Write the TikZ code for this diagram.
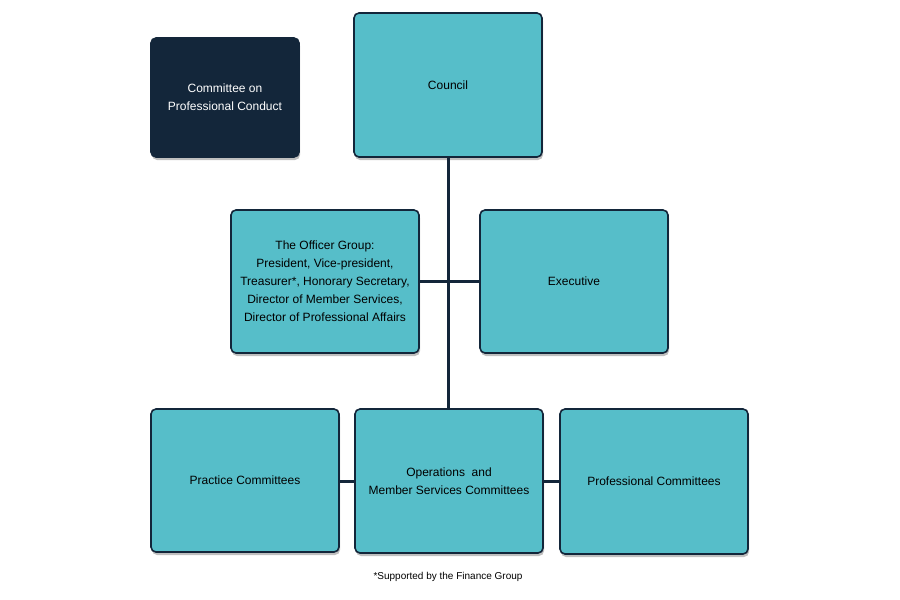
\documentclass[tikz,border=0pt]{standalone}
\usepackage{fontspec}
\setmainfont{Liberation Sans}
\usetikzlibrary{shadows}
\definecolor{navy}{HTML}{13263A}
\definecolor{tealbox}{HTML}{56BEC9}
\begin{document}
\begin{tikzpicture}[
  x=1pt, y=-1pt, font=\fontsize{12}{18}\selectfont,
  box/.style={draw=navy, line width=1.6pt, rounded corners=5pt, fill=#1, align=center,
    minimum width=188pt, minimum height=143pt, inner sep=2pt,
    drop shadow={shadow xshift=1pt, shadow yshift=-3pt, opacity=0.25, fill=black}},
  link/.style={line width=3pt, navy}
]
%% Canvas
\fill[white] (0,0) rectangle (900,600);
\useasboundingbox (0,0) rectangle (900,600);

%% Top row
\node[box=navy, text=white, minimum width=148pt, minimum height=119pt] (conduct) at (225, 97.5) {Committee on\\Professional Conduct};
\node[box=tealbox, minimum height=144pt] (council) at (448, 85) {Council};

%% Middle row
\node[box=tealbox] (officer) at (325, 281.5) {The Officer Group:\\President, Vice-president,\\Treasurer*, Honorary Secretary,\\Director of Member Services,\\Director of Professional Affairs};
\node[box=tealbox] (exec) at (574, 281.5) {Executive};

%% Committees
\node[box=tealbox] (practice) at (245, 480.5) {Practice Committees};
\node[box=tealbox, minimum height=144pt] (ops) at (449, 481) {Operations~ and\\Member Services Committees};
\node[box=tealbox, minimum height=145pt] (prof) at (654, 481.5) {Professional Committees};

%% Note
\node[font=\fontsize{10}{12}\selectfont] (note) at (448, 577) {*Supported by the Finance Group};

%% Links
\draw[link] (council.south -| 448,0) -- (ops.north -| 448,0);
\draw[link] (officer.east) -- (exec.west);
\draw[link] (practice.east |- ops.west) -- (ops.west);
\draw[link] (ops.east) -- (prof.west |- ops.east);
\end{tikzpicture}
\end{document}
